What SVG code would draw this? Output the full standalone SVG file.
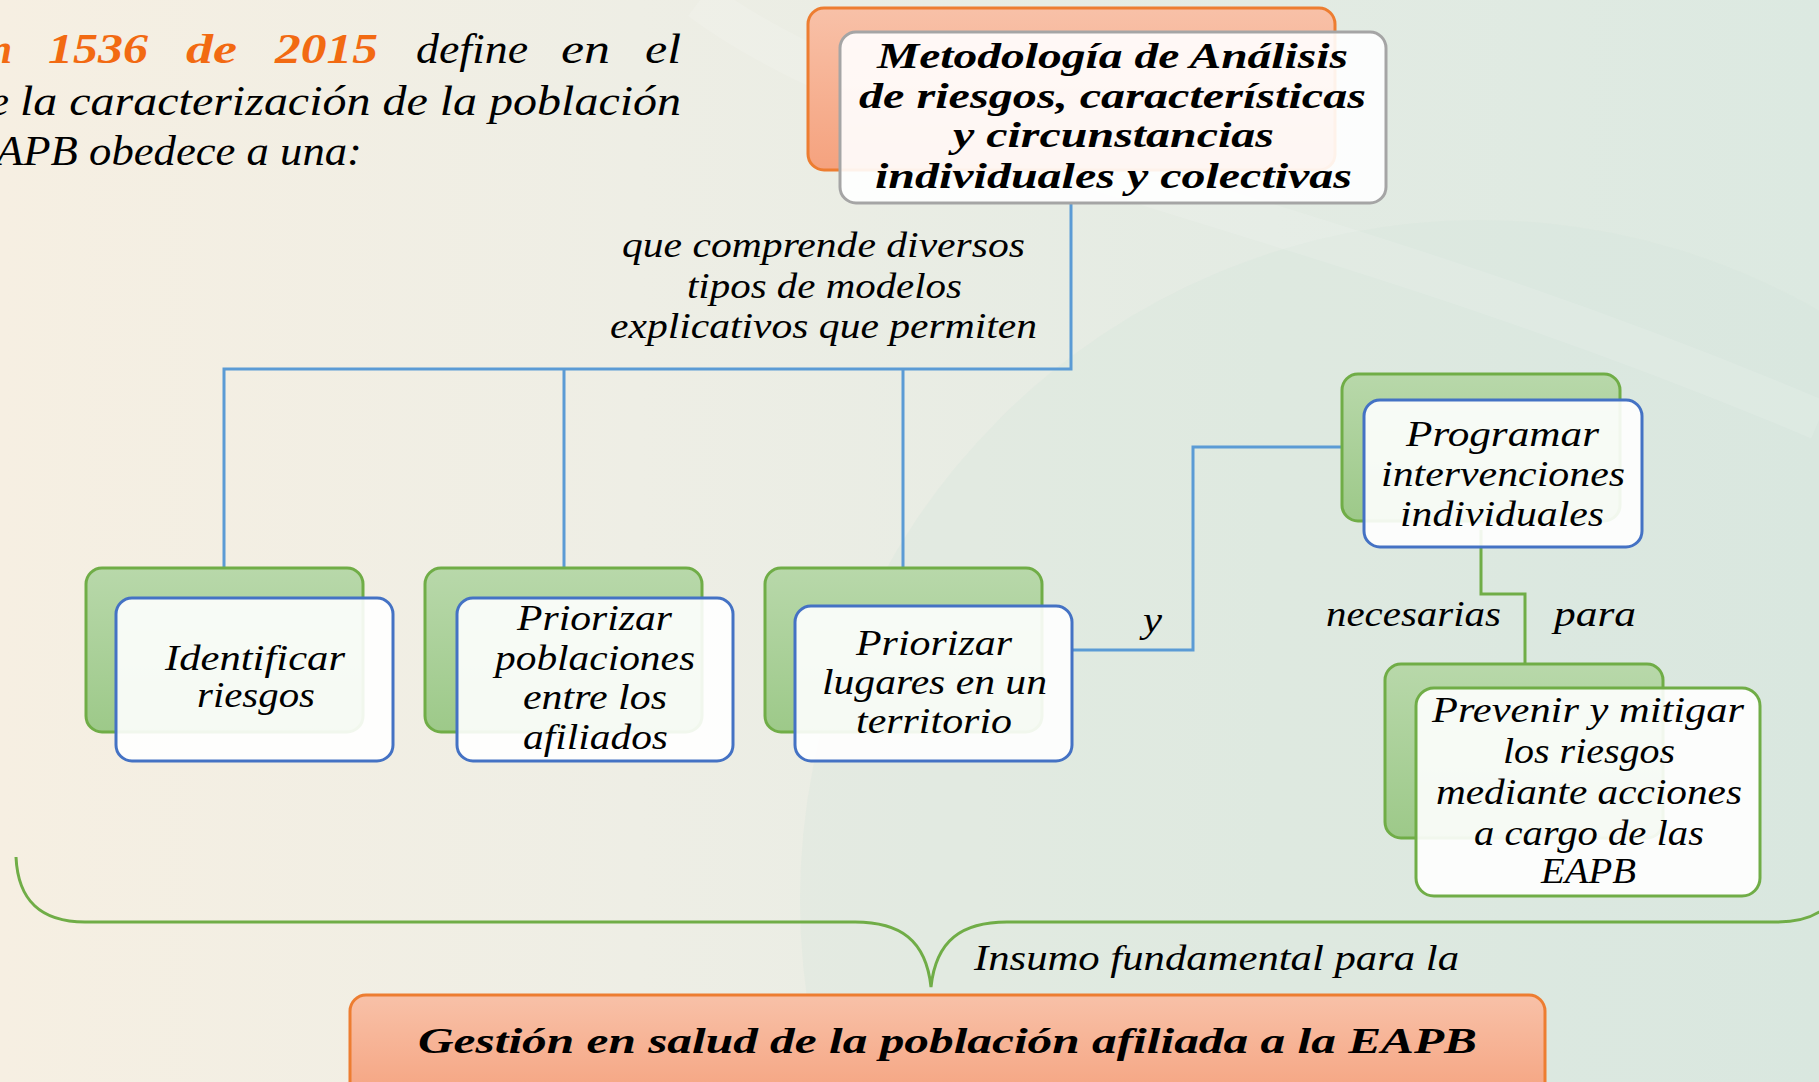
<svg xmlns="http://www.w3.org/2000/svg" width="1819" height="1082" viewBox="0 0 1819 1082">
<defs>
<linearGradient id="bg" x1="0" y1="0" x2="1" y2="0">
<stop offset="0" stop-color="#f6efe2"/>
<stop offset="0.35" stop-color="#eeeee5"/>
<stop offset="0.7" stop-color="#e3ebe3"/>
<stop offset="1" stop-color="#dce9e1"/>
</linearGradient>
<linearGradient id="gOrange" x1="0" y1="0" x2="0" y2="1">
<stop offset="0" stop-color="#f8c1a8"/>
<stop offset="1" stop-color="#f5a27e"/>
</linearGradient>
<linearGradient id="gGreen" x1="0" y1="0" x2="0" y2="1">
<stop offset="0" stop-color="#b8d8aa"/>
<stop offset="1" stop-color="#9dc989"/>
</linearGradient>
<style>
.t{font-family:"Liberation Serif","Times New Roman",serif;font-style:italic;fill:#000;}
.b{font-weight:bold;}
.or{fill:#f26a12;font-weight:bold;}
.back-o{fill:url(#gOrange);stroke:#ed7d31;stroke-width:3;}
.back-g{fill:url(#gGreen);stroke:#70ad47;stroke-width:3;}
.front{fill:#ffffff;fill-opacity:0.9;stroke:#4472c4;stroke-width:3;}
.front-gray{fill:#ffffff;fill-opacity:0.9;stroke:#a5a5a5;stroke-width:3;}
.front-green{fill:#ffffff;fill-opacity:0.9;stroke:#70ad47;stroke-width:3;}
.cb{fill:none;stroke:#5b9bd5;stroke-width:3;}
.cg{fill:none;stroke:#70ad47;stroke-width:3;}
</style>
</defs>

<rect x="0" y="0" width="1819" height="1082" fill="url(#bg)"/>
<circle cx="1480" cy="900" r="680" fill="#d3e5da" fill-opacity="0.3"/>
<path d="M700,0 C900,150 1300,200 1819,420" fill="none" stroke="#ffffff" stroke-opacity="0.12" stroke-width="40"/>

<g id="intro">
<text class="t or" font-size="42" x="12" y="63" text-anchor="end">n</text>
<text class="t or" font-size="42" x="48" y="63" textLength="100" lengthAdjust="spacingAndGlyphs">1536</text>
<text class="t or" font-size="42" x="186" y="63" textLength="51" lengthAdjust="spacingAndGlyphs">de</text>
<text class="t or" font-size="42" x="275" y="63" textLength="103" lengthAdjust="spacingAndGlyphs">2015</text>
<text class="t" font-size="42" x="416" y="63" textLength="112" lengthAdjust="spacingAndGlyphs">define</text>
<text class="t" font-size="42" x="561" y="63" textLength="49" lengthAdjust="spacingAndGlyphs">en</text>
<text class="t" font-size="42" x="645" y="63" textLength="36" lengthAdjust="spacingAndGlyphs">el</text>
<text class="t" font-size="42" x="9" y="115" text-anchor="end">e</text>
<text class="t" font-size="42" x="20" y="115" textLength="661" lengthAdjust="spacingAndGlyphs">la caracterización de la población</text>
<text class="t" font-size="42" x="-4" y="165" textLength="366" lengthAdjust="spacingAndGlyphs">APB obedece a una:</text>
</g>

<g id="connectors">
<path class="cb" d="M1071,203 V369 H224 V568"/>
<path class="cb" d="M564,369 V568"/>
<path class="cb" d="M903,369 V568"/>
<path class="cb" d="M1073,650 H1193 V447 H1342"/>
<path class="cg" d="M1481,530 V594 H1525 V664"/>
<path class="cg" d="M16,857 C18,900 40,922 85,922 L855,922 C900,922 926,940 931,987 C936,940 962,922 1007,922 L1777,922 C1822,922 1844,900 1846,857"/>
</g>

<g id="label-comprende">
<text class="t" font-size="36" x="622" y="257" textLength="403" lengthAdjust="spacingAndGlyphs">que comprende diversos</text>
<text class="t" font-size="36" x="687" y="298" textLength="275" lengthAdjust="spacingAndGlyphs">tipos de modelos</text>
<text class="t" font-size="36" x="610" y="338" textLength="427" lengthAdjust="spacingAndGlyphs">explicativos que permiten</text>
</g>

<g id="label-y">
<text class="t" font-size="36" x="1143" y="632" textLength="19" lengthAdjust="spacingAndGlyphs">y</text>
</g>
<g id="label-necesarias">
<text class="t" font-size="36" x="1326" y="626" textLength="175" lengthAdjust="spacingAndGlyphs">necesarias</text>
</g>
<g id="label-para">
<text class="t" font-size="36" x="1554" y="626" textLength="82" lengthAdjust="spacingAndGlyphs">para</text>
</g>
<g id="label-insumo">
<text class="t" font-size="36" x="974" y="970" textLength="485" lengthAdjust="spacingAndGlyphs">Insumo fundamental para la</text>
</g>

<g id="node-metodologia">
<rect class="back-o" x="808" y="8" width="527" height="162" rx="16"/>
<rect class="front-gray" x="840" y="32" width="546" height="171" rx="16"/>
<text class="t b" font-size="35" x="877" y="68" textLength="471" lengthAdjust="spacingAndGlyphs">Metodología de Análisis</text>
<text class="t b" font-size="35" x="859" y="108" textLength="507" lengthAdjust="spacingAndGlyphs">de riesgos, características</text>
<text class="t b" font-size="35" x="953" y="147" textLength="321" lengthAdjust="spacingAndGlyphs">y circunstancias</text>
<text class="t b" font-size="35" x="875" y="188" textLength="477" lengthAdjust="spacingAndGlyphs">individuales y colectivas</text>
</g>

<g id="node-identificar">
<rect class="back-g" x="86" y="568" width="277" height="164" rx="16"/>
<rect class="front" x="116" y="598" width="277" height="163" rx="16"/>
<text class="t" font-size="36" x="165" y="670" textLength="180" lengthAdjust="spacingAndGlyphs">Identificar</text>
<text class="t" font-size="36" x="197" y="707" textLength="118" lengthAdjust="spacingAndGlyphs">riesgos</text>
</g>

<g id="node-poblaciones">
<rect class="back-g" x="425" y="568" width="277" height="164" rx="16"/>
<rect class="front" x="457" y="598" width="276" height="163" rx="16"/>
<text class="t" font-size="36" x="517" y="630" textLength="155" lengthAdjust="spacingAndGlyphs">Priorizar</text>
<text class="t" font-size="36" x="495" y="670" textLength="200" lengthAdjust="spacingAndGlyphs">poblaciones</text>
<text class="t" font-size="36" x="523" y="709" textLength="144" lengthAdjust="spacingAndGlyphs">entre los</text>
<text class="t" font-size="36" x="523" y="749" textLength="145" lengthAdjust="spacingAndGlyphs">afiliados</text>
</g>

<g id="node-lugares">
<rect class="back-g" x="765" y="568" width="277" height="164" rx="16"/>
<rect class="front" x="795" y="606" width="277" height="155" rx="16"/>
<text class="t" font-size="36" x="856" y="655" textLength="156" lengthAdjust="spacingAndGlyphs">Priorizar</text>
<text class="t" font-size="36" x="822" y="694" textLength="225" lengthAdjust="spacingAndGlyphs">lugares en un</text>
<text class="t" font-size="36" x="856" y="733" textLength="156" lengthAdjust="spacingAndGlyphs">territorio</text>
</g>

<g id="node-programar">
<rect class="back-g" x="1342" y="374" width="278" height="147" rx="16"/>
<rect class="front" x="1364" y="400" width="278" height="147" rx="16"/>
<text class="t" font-size="36" x="1406" y="446" textLength="193" lengthAdjust="spacingAndGlyphs">Programar</text>
<text class="t" font-size="36" x="1381" y="486" textLength="244" lengthAdjust="spacingAndGlyphs">intervenciones</text>
<text class="t" font-size="36" x="1400" y="526" textLength="204" lengthAdjust="spacingAndGlyphs">individuales</text>
</g>

<g id="node-prevenir">
<rect class="back-g" x="1385" y="664" width="278" height="174" rx="16"/>
<rect class="front-green" x="1416" y="688" width="344" height="208" rx="18"/>
<text class="t" font-size="36" x="1432" y="722" textLength="312" lengthAdjust="spacingAndGlyphs">Prevenir y mitigar</text>
<text class="t" font-size="36" x="1503" y="763" textLength="172" lengthAdjust="spacingAndGlyphs">los riesgos</text>
<text class="t" font-size="36" x="1436" y="804" textLength="306" lengthAdjust="spacingAndGlyphs">mediante acciones</text>
<text class="t" font-size="36" x="1474" y="845" textLength="230" lengthAdjust="spacingAndGlyphs">a cargo de las</text>
<text class="t" font-size="36" x="1541" y="883" textLength="95" lengthAdjust="spacingAndGlyphs">EAPB</text>
</g>

<g id="node-gestion">
<rect class="back-o" x="350" y="995" width="1195" height="110" rx="16"/>
<text class="t b" font-size="36" x="418" y="1053" textLength="1059" lengthAdjust="spacingAndGlyphs">Gestión en salud de la población afiliada a la EAPB</text>
</g>
</svg>
